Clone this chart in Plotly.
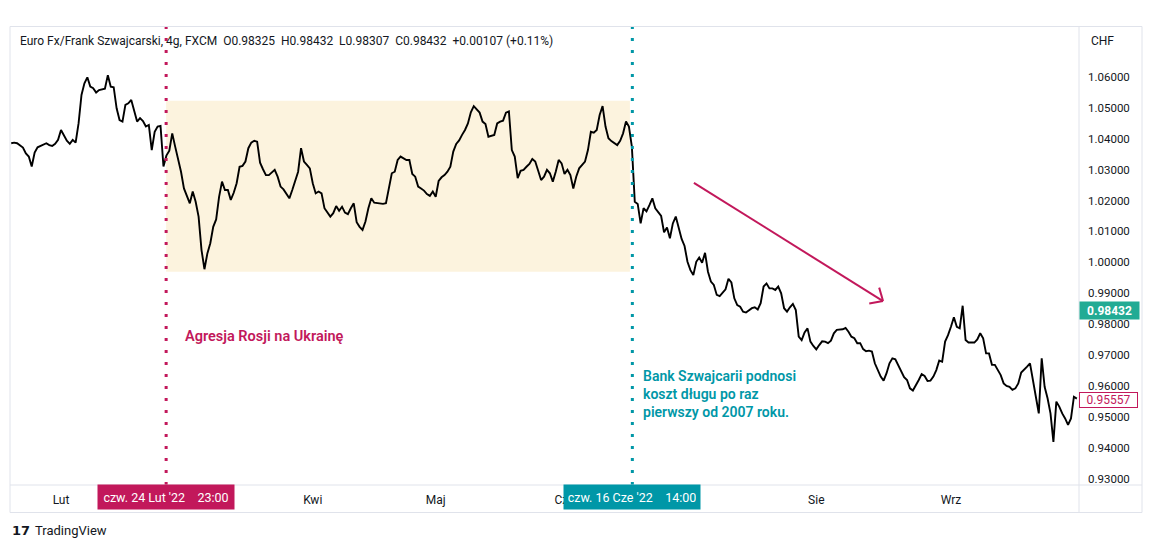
import numpy as np
import plotly.graph_objects as go

# ---------------- data ----------------
ORIGIN = "2022-02-01"            # trading-day 0 of the gapless time axis
SERIES_START = "2022-01-19"      # first sample date
SERIES_START_HOUR = 12
STEP_DAYS = 0.5                  # one sample every 12 h (3 bars of 4h)

PRICES = [
    1.0385, 1.0387, 1.0385, 1.0379, 1.0371, 1.0352, 1.0342, 1.0310, 1.0355, 1.0372,
    1.0376, 1.0379, 1.0385, 1.0379, 1.0376, 1.0383, 1.0396, 1.0428, 1.0408, 1.0393,
    1.0383, 1.0396, 1.0387, 1.0449, 1.0541, 1.0579, 1.0598, 1.0568, 1.0563, 1.0549,
    1.0557, 1.0559, 1.0561, 1.0605, 1.0568, 1.0566, 1.0498, 1.0460, 1.0455, 1.0509,
    1.0514, 1.0525, 1.0487, 1.0455, 1.0466, 1.0457, 1.0439, 1.0444, 1.0363, 1.0422,
    1.0439, 1.0441, 1.0310, 1.0345, 1.0361, 1.0417, 1.0374, 1.0333, 1.0293, 1.0239,
    1.0212, 1.0191, 1.0229, 1.0196, 1.0148, 1.0040, 0.9978, 1.0029, 1.0062, 1.0115,
    1.0139, 1.0212, 1.0261, 1.0234, 1.0234, 1.0202, 1.0225, 1.0256, 1.0309, 1.0312,
    1.0326, 1.0369, 1.0387, 1.0393, 1.0390, 1.0322, 1.0301, 1.0282, 1.0282, 1.0290,
    1.0299, 1.0277, 1.0245, 1.0236, 1.0223, 1.0207, 1.0234, 1.0266, 1.0293, 1.0369,
    1.0326, 1.0315, 1.0304, 1.0256, 1.0223, 1.0229, 1.0223, 1.0175, 1.0161, 1.0148,
    1.0159, 1.0182, 1.0167, 1.0180, 1.0161, 1.0156, 1.0175, 1.0191, 1.0130, 1.0115,
    1.0105, 1.0132, 1.0175, 1.0207, 1.0193, 1.0191, 1.0190, 1.0189, 1.0191, 1.0245,
    1.0288, 1.0293, 1.0331, 1.0342, 1.0336, 1.0331, 1.0331, 1.0286, 1.0277, 1.0245,
    1.0239, 1.0232, 1.0221, 1.0215, 1.0229, 1.0212, 1.0263, 1.0275, 1.0282, 1.0293,
    1.0309, 1.0358, 1.0383, 1.0394, 1.0412, 1.0428, 1.0449, 1.0485, 1.0505, 1.0495,
    1.0484, 1.0455, 1.0447, 1.0406, 1.0408, 1.0412, 1.0449, 1.0455, 1.0458, 1.0484,
    1.0488, 1.0363, 1.0342, 1.0272, 1.0296, 1.0299, 1.0309, 1.0318, 1.0334, 1.0326,
    1.0296, 1.0266, 1.0277, 1.0299, 1.0288, 1.0261, 1.0293, 1.0331, 1.0320, 1.0286,
    1.0299, 1.0282, 1.0239, 1.0277, 1.0304, 1.0315, 1.0326, 1.0363, 1.0422, 1.0419,
    1.0428, 1.0476, 1.0505, 1.0439, 1.0401, 1.0392, 1.0385, 1.0379, 1.0393, 1.0417,
    1.0455, 1.0439, 1.0374, 1.0196, 1.0189, 1.0126, 1.0175, 1.0165, 1.0185, 1.0207,
    1.0175, 1.0161, 1.0150, 1.0097, 1.0113, 1.0078, 1.0126, 1.0148, 1.0115, 1.0076,
    1.0053, 1.0002, 0.9975, 0.9959, 1.0002, 1.0016, 0.9999, 1.0031, 0.9970, 0.9938,
    0.9927, 0.9895, 0.9891, 0.9902, 0.9913, 0.9947, 0.9935, 0.9884, 0.9862, 0.9857,
    0.9841, 0.9838, 0.9846, 0.9852, 0.9855, 0.9848, 0.9868, 0.9922, 0.9932, 0.9916,
    0.9916, 0.9911, 0.9922, 0.9900, 0.9852, 0.9841, 0.9855, 0.9866, 0.9846, 0.9760,
    0.9749, 0.9774, 0.9787, 0.9744, 0.9730, 0.9719, 0.9733, 0.9745, 0.9744, 0.9739,
    0.9747, 0.9771, 0.9782, 0.9782, 0.9784, 0.9788, 0.9776, 0.9760, 0.9755, 0.9739,
    0.9739, 0.9720, 0.9713, 0.9715, 0.9712, 0.9674, 0.9654, 0.9631, 0.9618, 0.9642,
    0.9674, 0.9690, 0.9687, 0.9669, 0.9647, 0.9629, 0.9620, 0.9593, 0.9586, 0.9601,
    0.9620, 0.9639, 0.9633, 0.9617, 0.9618, 0.9631, 0.9652, 0.9683, 0.9679, 0.9744,
    0.9765, 0.9792, 0.9823, 0.9792, 0.9787, 0.9860, 0.9749, 0.9741, 0.9742, 0.9741,
    0.9751, 0.9771, 0.9755, 0.9706, 0.9706, 0.9669, 0.9669, 0.9652, 0.9636, 0.9609,
    0.9601, 0.9598, 0.9588, 0.9593, 0.9609, 0.9644, 0.9652, 0.9663, 0.9674, 0.9625,
    0.9566, 0.9512, 0.9690, 0.9598, 0.9561, 0.9512, 0.9420, 0.9550, 0.9534, 0.9512,
    0.9496, 0.9475, 0.9496, 0.9566, 0.9560,
]

MONTH_DATES = ["2022-02-01", "2022-04-01", "2022-05-02", "2022-06-01", "2022-08-01", "2022-09-01"]
MONTH_LABELS = ["Lut", "Kwi", "Maj", "Cze", "Sie", "Wrz"]
PRICE_TICKS = [0.93, 0.94, 0.95, 0.96, 0.97, 0.98, 0.99, 1.00, 1.01, 1.02, 1.03, 1.04, 1.05, 1.06]

EVENT1 = ("2022-02-24", 23)   # Russian invasion
EVENT2 = ("2022-06-16", 14)   # SNB hike
RANGE_END = ("2022-06-16", 4)
RANGE_TOP, RANGE_BOTTOM = 1.0522, 0.9970
LAST_PRICE = 0.98432
MARK_PRICE = 0.95557
ARROW_FROM = (108.1, 1.0257)  # (trading day, price)
ARROW_TO = (140.4, 0.9875)

HEADER = ("Euro Fx/Frank Szwajcarski, 4g, FXCM\u00a0\u00a0O0.98325\u00a0\u00a0H0.98432"
          "\u00a0\u00a0L0.98307\u00a0\u00a0C0.98432\u00a0\u00a0+0.00107 (+0.11%)")
EVENT1_LABEL = "czw. 24 Lut '22\u00a0\u00a0\u00a0\u00a023:00"
EVENT2_LABEL = "czw. 16 Cze '22\u00a0\u00a0\u00a0\u00a014:00"
TEXT1 = "Agresja Rosji na Ukrainę"
TEXT2 = ["Bank Szwajcarii podnosi", "koszt długu po raz", "pierwszy od 2007 roku."]

# ---------------- styling ----------------
W, H = 1153, 548
ML, MR, MT, MB = 10, 74, 27, 63
PW, PH = W - ML - MR, H - MT - MB
X_RANGE = [-8.71, 173.87]
Y_RANGE = [0.92808, 1.07606]
CRIMSON = "#C2185B"
TEAL = "#0097A7"
FRAME = "#E0E3EB"
TXT = "#131722"
FONT = "Roboto"


def tday(date, hour=0):
    return float(np.busday_count(ORIGIN, date)) + hour / 24.0


start = tday(SERIES_START, SERIES_START_HOUR)
x = start + STEP_DAYS * np.arange(len(PRICES))

fig = go.Figure()
fig.add_trace(go.Scatter(x=x, y=PRICES, mode="lines",
                         line=dict(color="#000000", width=1.9), hoverinfo="skip"))

shapes = []
# consolidation range box
shapes.append(dict(type="rect", xref="x", yref="y", x0=tday(*EVENT1), x1=tday(*RANGE_END),
                   y0=RANGE_BOTTOM, y1=RANGE_TOP, fillcolor="#FCF3DE", line=dict(width=0),
                   layer="below"))
# event lines
for ev, col in ((EVENT1, CRIMSON), (EVENT2, TEAL)):
    shapes.append(dict(type="line", xref="x", yref="paper", x0=tday(*ev), x1=tday(*ev),
                       y0=0, y1=1, line=dict(color=col, width=3, dash="3px,9px")))

# arrow (line + open V head) computed through the axis scales
sx = PW / (X_RANGE[1] - X_RANGE[0])
sy = PH / (Y_RANGE[1] - Y_RANGE[0])
shapes.append(dict(type="line", xref="x", yref="y", x0=ARROW_FROM[0], y0=ARROW_FROM[1],
                   x1=ARROW_TO[0], y1=ARROW_TO[1], line=dict(color=CRIMSON, width=2)))
dxp = (ARROW_FROM[0] - ARROW_TO[0]) * sx
dyp = (ARROW_FROM[1] - ARROW_TO[1]) * sy
ang = np.arctan2(dyp, dxp)
for s in (1, -1):
    a = ang + s * np.radians(42)
    bx = ARROW_TO[0] + 14 * np.cos(a) / sx
    by = ARROW_TO[1] + 14 * np.sin(a) / sy
    shapes.append(dict(type="line", xref="x", yref="y", x0=ARROW_TO[0], y0=ARROW_TO[1],
                       x1=bx, y1=by, line=dict(color=CRIMSON, width=2)))

# frame lines (paper coords)
def px2paper_x(px):
    return (px - ML) / PW


def py2paper_y(py):
    return (H - MB - py) / PH


R = px2paper_x(1142)
B = py2paper_y(512.5)
T = py2paper_y(26.5)
for (x0, y0, x1, y1) in [(0, B, 0, T), (0, T, R, T), (R, T, R, B), (0, B, R, B), (0, 0, R, 0), (1, B, 1, T)]:
    shapes.append(dict(type="line", xref="paper", yref="paper", x0=x0, y0=y0, x1=x1, y1=y1,
                       line=dict(color=FRAME, width=1)))

ann = []
ann.append(dict(x=px2paper_x(18), y=py2paper_y(41), xref="paper", yref="paper", text=HEADER,
                showarrow=False, xanchor="left", yanchor="middle",
                font=dict(family=FONT, size=12, color=TXT)))
ann.append(dict(x=px2paper_x(1089), y=py2paper_y(41), xref="paper", yref="paper", text="CHF",
                showarrow=False, xanchor="left", yanchor="middle",
                font=dict(family=FONT, size=12, color=TXT)))
ann.append(dict(x=20.9, y=0.9760, xref="x", yref="y", text=TEXT1, showarrow=False,
                xanchor="left", yanchor="middle",
                font=dict(family=FONT, size=14.5, color=CRIMSON, weight=600)))
ann.append(dict(x=99.1, y=0.9575, xref="x", yref="y", text="<br>".join(TEXT2),
                showarrow=False, xanchor="left", yanchor="middle", align="left",
                font=dict(family=FONT, size=14, color=TEAL, weight=600)))
for ev, lab, col in ((EVENT1, EVENT1_LABEL, CRIMSON), (EVENT2, EVENT2_LABEL, TEAL)):
    ann.append(dict(x=tday(*ev), y=py2paper_y(496.8), xref="x", yref="paper", text=lab,
                    showarrow=False, xanchor="center", yanchor="middle", bgcolor=col,
                    width=128, height=16, borderpad=4,
                    font=dict(family=FONT, size=12.5, color="white")))
ann.append(dict(x=1, y=LAST_PRICE, xref="paper", yref="y", text="<b>%.5f</b>" % LAST_PRICE,
                showarrow=False, xanchor="left", yanchor="middle", bgcolor="#22AB94",
                width=55, height=13, borderpad=2,
                font=dict(family=FONT, size=12, color="white")))
ann.append(dict(x=1, y=MARK_PRICE, xref="paper", yref="y", text="%.5f" % MARK_PRICE,
                showarrow=False, xanchor="left", yanchor="middle", bgcolor="white",
                bordercolor=CRIMSON, borderwidth=1, width=55, height=12, borderpad=1,
                font=dict(family=FONT, size=12, color=CRIMSON)))
ann.append(dict(x=0, y=py2paper_y(530), xref="paper", yref="paper", text="<b>17</b>",
                showarrow=False, xanchor="left", yanchor="middle",
                font=dict(family="DejaVu Sans", size=13, color=TXT)))
ann.append(dict(x=px2paper_x(33), y=py2paper_y(530), xref="paper", yref="paper",
                text="TradingView", showarrow=False, xanchor="left", yanchor="middle",
                font=dict(family=FONT, size=13, color=TXT)))

fig.update_layout(
    width=W, height=H, margin=dict(l=ML, r=MR, t=MT, b=MB),
    paper_bgcolor="white", plot_bgcolor="white", showlegend=False,
    hovermode=False, shapes=shapes, annotations=ann,
    xaxis=dict(range=X_RANGE, showgrid=False, zeroline=False, showline=False,
               tickmode="array", tickvals=[tday(d) for d in MONTH_DATES], ticktext=MONTH_LABELS,
               ticks="", ticklabelstandoff=6,
               tickfont=dict(family=FONT, size=12, color=TXT)),
    yaxis=dict(range=Y_RANGE, side="right", showgrid=False, zeroline=False, showline=False,
               tickmode="array", tickvals=PRICE_TICKS, tickformat=".5f", ticks="",
               ticklabelstandoff=8, tickfont=dict(family=FONT, size=11.5, color=TXT)),
)

fig.write_html("out.html", config={"displayModeBar": False})
